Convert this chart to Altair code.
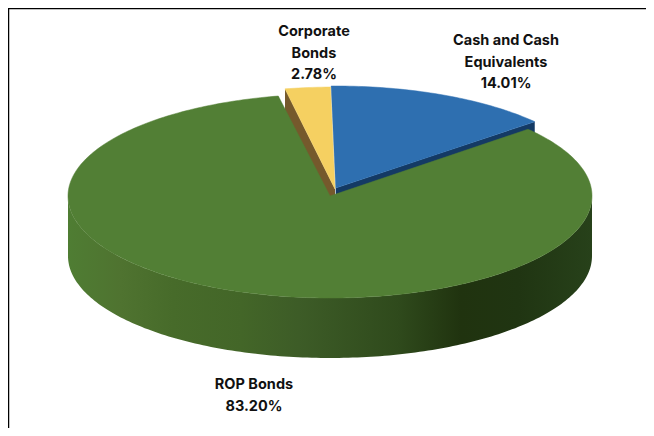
import math
import altair as alt
import pandas as pd

# Shares, in percent, and the label text
labels = ["Cash and Cash\nEquivalents\n14.01%", "Corporate\nBonds\n2.78%", "ROP Bonds\n83.20%"]
shares = [14.01, 2.78, 83.20]
# where each slice starts, in degrees clockwise from the top of the pie
starts = [-1.0, -11.0, 49.1]

colors = ["#2e6fb0", "#f5d061", "#527f35"]
edge_colors = ["#143a64", "#75592c", "#527f35"]
wall_stops = [(0.0, "#4f7d33"), (0.1, "#4f7330"), (0.2, "#476b2a"), (0.33, "#436628"),
              (0.44, "#3d5c27"), (0.63, "#2f4a1c"), (0.75, "#20330f"), (0.86, "#203512"),
              (1.0, "#27411a")]

RX, RY, DEPTH = 262.0, 102.0, 60.0
CX, CY = 322.0, 188.0  # ellipse centre inside the plot area
W, H = 638, 420
x_scale = alt.Scale(domain=[-CX / RX, (W - CX) / RX], range=[0, W], nice=False, zero=False)
y_scale = alt.Scale(domain=[(CY - H) / RY, CY / RY], range=[H, 0], nice=False, zero=False)
X = alt.X("u:Q", scale=x_scale, axis=None)
Y = alt.Y("v:Q", scale=y_scale, axis=None)
Y2 = alt.Y2("v2:Q")

# exploded offsets of the two small slices
offsets = [(5.7 / RX, 8.0 / RY), (5.0 / RX, 7.0 / RY), (0.0, 0.0)]


def sector(share, start, off):
    span = share * 3.6
    n = max(int(span), 2)
    rows = [{"u": off[0], "v": off[1], "o": 0}]
    for i in range(n + 1):
        a = math.radians(start + span * i / n)
        rows.append({"u": off[0] + math.sin(a), "v": off[1] + math.cos(a), "o": i + 1})
    rows.append({"u": off[0], "v": off[1], "o": n + 2})
    return pd.DataFrame(rows)


def radial_wall(share_i, a_deg, n=2):
    off = offsets[share_i]
    a = math.radians(a_deg)
    d = DEPTH / RY
    rows = []
    for i in range(n + 1):
        t = i / n
        u = off[0] + math.sin(a) * t
        v = off[1] + math.cos(a) * t
        rows.append({"u": u, "v": v, "v2": v - d})
    return pd.DataFrame(rows)


def slice_layer(i):
    df = sector(shares[i], starts[i], offsets[i])
    return alt.Chart(df).mark_line(fill=colors[i], stroke=colors[i], strokeWidth=0.5).encode(
        x=X, y=Y, order="o:Q")


# green side wall: lower half of the ellipse extruded downward
wall_rows = []
for deg in range(90, 271, 1):
    a = math.radians(deg)
    wall_rows.append({"u": math.sin(a), "v": math.cos(a), "v2": math.cos(a) - DEPTH / RY})
wall_df = pd.DataFrame(wall_rows)
wall = alt.Chart(wall_df).mark_area(
    color=alt.Gradient(gradient="linear", x1=0, x2=1, y1=0, y2=0,
                       stops=[alt.GradientStop(offset=o, color=c) for o, c in wall_stops])
).encode(x=X, y=Y, y2=Y2)

blue_end = starts[0] + shares[0] * 3.6
blue_wall = alt.Chart(radial_wall(0, blue_end)).mark_area(color=edge_colors[0]).encode(x=X, y=Y, y2=Y2)
yellow_wall = alt.Chart(radial_wall(1, starts[1])).mark_area(color=edge_colors[1]).encode(x=X, y=Y, y2=Y2)

# frame: only the top and left edges show in the reference
frame_top = alt.Chart(pd.DataFrame({"a": [0]})).mark_rule(color="#000000", strokeWidth=1.5).encode(
    x=alt.value(0), x2=alt.value(W), y=alt.value(0.5))
frame_left = alt.Chart(pd.DataFrame({"a": [0]})).mark_rule(color="#000000", strokeWidth=1.5).encode(
    x=alt.value(0.5), y=alt.value(0), y2=alt.value(H))


def label(text, px, py):
    return alt.Chart(pd.DataFrame({"t": [text]})).mark_text(
        font="Inter", fontWeight=700, fontSize=14.5, color="#111111", lineBreak="\n", lineHeight=21.5,
        align="center", baseline="middle").encode(text="t:N", x=alt.value(px), y=alt.value(py))


chart = alt.layer(
    frame_top, frame_left,
    wall,
    blue_wall, yellow_wall,
    slice_layer(0), slice_layer(1),
    slice_layer(2),
    label(labels[0], 498, 33),
    label(labels[1], 306, 24),
    label(labels[2], 246, 377),
).properties(width=W, height=H, padding=0, background="white", autosize=alt.AutoSizeParams(type="none")
).configure_view(stroke=None)

chart.save("out.html", embed_options={"renderer": "svg", "actions": False})
